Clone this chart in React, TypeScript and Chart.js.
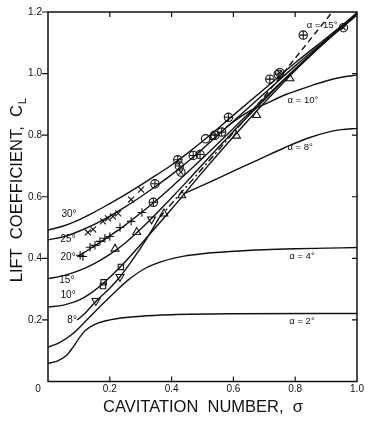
import React, { useEffect, useRef } from "react";
import { Chart, registerables } from "chart.js";

Chart.register(...registerables);

// ---- axis ticks ----
const sigmaTicks = [0, 0.2, 0.4, 0.6, 0.8, 1.0];
const clTicks = [0, 0.2, 0.4, 0.6, 0.8, 1.0, 1.2];

// ---- curves [sigma, C_L] ----
const curve30 = [[0, 0.492], [0.05, 0.505], [0.1, 0.525], [0.15, 0.55], [0.2, 0.578], [0.25, 0.607], [0.3, 0.638], [0.35, 0.67], [0.4, 0.703], [0.45, 0.74], [0.5, 0.78], [0.6, 0.865], [0.7, 0.95], [0.8, 1.035], [0.9, 1.115], [1.0, 1.195]];
const curve25 = [[0, 0.46], [0.05, 0.47], [0.1, 0.488], [0.15, 0.51], [0.2, 0.537], [0.25, 0.567], [0.3, 0.6], [0.35, 0.635], [0.4, 0.672], [0.45, 0.712], [0.5, 0.755], [0.6, 0.845], [0.7, 0.935], [0.8, 1.025], [0.9, 1.11], [1.0, 1.192]];
const curve20 = [[0.095, 0.405], [0.15, 0.44], [0.2, 0.473], [0.25, 0.508], [0.3, 0.547], [0.35, 0.588], [0.4, 0.632], [0.45, 0.678], [0.5, 0.725], [0.6, 0.822], [0.7, 0.92], [0.8, 1.015], [0.9, 1.105], [1.0, 1.19]];
const curve15 = [[0, 0.334], [0.05, 0.344], [0.1, 0.36], [0.15, 0.383], [0.2, 0.413], [0.25, 0.45], [0.3, 0.495], [0.35, 0.545], [0.4, 0.597], [0.45, 0.65], [0.5, 0.705], [0.6, 0.812], [0.7, 0.915], [0.8, 1.015], [0.9, 1.108], [1.0, 1.198]];
const curve10 = [[0, 0.242], [0.05, 0.248], [0.1, 0.264], [0.14, 0.288], [0.18, 0.32], [0.236, 0.374], [0.3, 0.445], [0.4, 0.56], [0.5, 0.68], [0.6, 0.795], [0.7, 0.905], [0.8, 1.01], [0.9, 1.105], [1.0, 1.195]];
const curve8 = [[0.095, 0.2], [0.12, 0.222], [0.157, 0.262], [0.2, 0.303], [0.233, 0.34], [0.27, 0.39], [0.32, 0.465], [0.36, 0.532]];
const curve8DashDot = [[0.36, 0.532], [0.45, 0.635], [0.55, 0.75], [0.7, 0.925]];
const curve15Dashed = [[0.7, 0.925], [0.92, 1.2]];
const curve4 = [[0, 0.111], [0.04, 0.128], [0.08, 0.155], [0.12, 0.194], [0.17, 0.245], [0.217, 0.291], [0.26, 0.33], [0.314, 0.367], [0.37, 0.39], [0.44, 0.407], [0.5, 0.415], [0.6, 0.423], [0.7, 0.428], [0.8, 0.431], [0.9, 0.433], [1.0, 0.435]];
const curve2 = [[0, 0.059], [0.03, 0.066], [0.06, 0.085], [0.08, 0.11], [0.1, 0.14], [0.12, 0.165], [0.15, 0.185], [0.2, 0.2], [0.3, 0.212], [0.4, 0.217], [0.6, 0.22], [1.0, 0.221]];
const wetted10 = [[0.575, 0.825], [0.62, 0.858], [0.66, 0.882], [0.7, 0.9], [0.77, 0.932], [0.85, 0.96], [0.9, 0.976], [0.95, 0.988], [1.0, 0.995]];
const wetted8 = [[0.44, 0.61], [0.5, 0.637], [0.55, 0.66], [0.605, 0.686], [0.68, 0.72], [0.767, 0.76], [0.84, 0.79], [0.906, 0.81], [0.95, 0.818], [1.0, 0.822]];

// ---- experimental points [sigma, C_L] ----
const ptsCrossX = [[0.129, 0.484], [0.146, 0.494], [0.178, 0.52], [0.194, 0.53], [0.21, 0.536], [0.227, 0.546], [0.269, 0.591], [0.301, 0.623]];
const ptsPlus = [[0.104, 0.41], [0.113, 0.406], [0.136, 0.436], [0.152, 0.442], [0.168, 0.455], [0.184, 0.465], [0.2, 0.471], [0.233, 0.5], [0.269, 0.52], [0.304, 0.549]];
const ptsCirclePlus = [[0.346, 0.642], [0.341, 0.582], [0.42, 0.72], [0.425, 0.7], [0.47, 0.734], [0.492, 0.737], [0.54, 0.8], [0.562, 0.81], [0.584, 0.858], [0.718, 0.982], [0.745, 0.998], [0.826, 1.125]];
const ptsCircleCross = [[0.43, 0.68], [0.75, 1.003], [0.956, 1.149]];
const ptsCircle = [[0.51, 0.788]];
const ptsTriUp = [[0.217, 0.431], [0.287, 0.485], [0.375, 0.545], [0.433, 0.604], [0.61, 0.798], [0.675, 0.865], [0.783, 0.984]];
const ptsTriDown = [[0.155, 0.262], [0.233, 0.34], [0.335, 0.527]];
const ptsSquare = [[0.18, 0.322], [0.178, 0.31], [0.236, 0.372], [0.535, 0.795]];

// ---- text labels [text, sigma, C_L] ----
const leftLabels: [string, number, number][] = [["30°", 0.068, 0.542], ["25°", 0.065, 0.462], ["20°", 0.065, 0.403], ["15°", 0.061, 0.329], ["10°", 0.065, 0.28], ["8°", 0.078, 0.199]];
const rightLabels: [string, number, number][] = [["α = 15°", 0.887, 1.158], ["α = 10°", 0.825, 0.912], ["α = 8°", 0.816, 0.759], ["α = 4°", 0.822, 0.406], ["α = 2°", 0.822, 0.196]];

const yTitle = "LIFT  COEFFICIENT,  C";
const yTitleSub = "L";
const xTitle = "CAVITATION  NUMBER,  σ";

const toXY = (a: number[][]) => a.map(([x, y]) => ({ x, y }));
const INK = "#111";
const FONT = "'Liberation Sans', Arial, sans-serif";

export default function App() {
  const ref = useRef<HTMLCanvasElement | null>(null);
  useEffect(() => {
    document.body.style.margin = "0";
    document.body.style.background = "#fff";
    const line = (data: number[][], dash: number[] = []) => ({
      data: toXY(data), showLine: true, borderColor: INK, borderWidth: 1.4, order: 10,
      pointRadius: 0, borderDash: dash, cubicInterpolationMode: "monotone", fill: false,
    });
    const mark = (data: number[][], style: string, extra: any = {}) => ({
      data: toXY(data), showLine: false, pointStyle: style, pointRadius: 4.2, order: 2,
      pointBorderColor: INK, pointBackgroundColor: "rgba(0,0,0,0)", pointBorderWidth: 1.1, ...extra,
    });

    const framePlugin = {
      id: "frame",
      afterDraw(chart: any) {
        const { ctx, chartArea, scales } = chart;
        const { left, right, top, bottom } = chartArea;
        const xs = scales.x, ys = scales.y;
        ctx.save();
        ctx.strokeStyle = INK;
        ctx.lineWidth = 1.5;
        ctx.strokeRect(left, top, right - left, bottom - top);
        ctx.lineWidth = 1.2;
        ctx.beginPath();
        sigmaTicks.forEach((v) => {
          const px = xs.getPixelForValue(v);
          if (v > 0 && v < 1) {
            ctx.moveTo(px, bottom); ctx.lineTo(px, bottom - 5);
            ctx.moveTo(px, top); ctx.lineTo(px, top + 5);
          }
        });
        clTicks.forEach((v) => {
          const py = ys.getPixelForValue(v);
          if (v > 0) { ctx.moveTo(left - 6, py); ctx.lineTo(left, py); }
          if (v > 0 && v < 1.2) { ctx.moveTo(right, py); ctx.lineTo(right - 5, py); }
        });
        ctx.stroke();

        ctx.fillStyle = INK;
        ctx.textBaseline = "middle";
        ctx.textAlign = "center";
        ctx.font = `10px ${FONT}`;
        ctx.fillText("0", xs.getPixelForValue(0) - 10, bottom + 8);
        leftLabels.forEach(([t, sx, sy]) => ctx.fillText(t, xs.getPixelForValue(sx), ys.getPixelForValue(sy)));
        ctx.font = `9.5px ${FONT}`;
        rightLabels.forEach(([t, sx, sy]) => ctx.fillText(t, xs.getPixelForValue(sx), ys.getPixelForValue(sy)));

        // x title
        let fs = 14;
        ctx.font = `${fs}px ${FONT}`;
        const wx = ctx.measureText(xTitle).width;
        fs = fs * 200 / wx;
        ctx.font = `${fs}px ${FONT}`;
        ctx.fillText(xTitle, 203, 407);

        // y title (rotated) with subscript
        ctx.save();
        ctx.translate(17, 190);
        ctx.rotate(-Math.PI / 2);
        let fy = 13;
        ctx.font = `${fy}px ${FONT}`;
        const w1 = ctx.measureText(yTitle).width;
        ctx.font = `${fy * 0.7}px ${FONT}`;
        const w2 = ctx.measureText(yTitleSub).width;
        fy *= 185 / (w1 + w2 + 1);
        ctx.font = `${fy}px ${FONT}`;
        const W1 = ctx.measureText(yTitle).width;
        ctx.font = `${fy * 0.7}px ${FONT}`;
        const W2 = ctx.measureText(yTitleSub).width;
        const start = -(W1 + W2 + 1) / 2;
        ctx.textAlign = "left";
        ctx.font = `${fy}px ${FONT}`;
        ctx.fillText(yTitle, start, 0);
        ctx.font = `${fy * 0.7}px ${FONT}`;
        ctx.fillText(yTitleSub, start + W1 + 1, fy * 0.35);
        ctx.restore();
        ctx.restore();
      },
    };

    const chart = new Chart(ref.current as HTMLCanvasElement, {
      type: "scatter",
      data: {
        datasets: [
          line(curve30), line(curve25), line(curve20), line(curve15), line(curve10),
          line(curve8), line(curve8DashDot, [7, 3, 2, 3]), line(curve15Dashed, [6, 4]),
          line(curve4), line(curve2), line(wetted10), line(wetted8),
          mark(ptsCrossX, "crossRot"),
          mark(ptsPlus, "cross"),
          mark(ptsCirclePlus, "circle"),
          mark(ptsCirclePlus, "cross", { pointRadius: 3.8, order: 1 }),
          mark(ptsCircleCross, "circle"),
          mark(ptsCircleCross, "crossRot", { pointRadius: 3.4, order: 1 }),
          mark(ptsCircle, "circle"),
          mark(ptsTriUp, "triangle", { pointRadius: 4.6 }),
          mark(ptsTriDown, "triangle", { pointRadius: 4.6, pointRotation: 180 }),
          mark(ptsSquare, "rect", { pointRadius: 3.8 }),
        ] as any,
      },
      options: {
        responsive: false,
        animation: false,
        events: [],
        layout: { padding: { top: 11, right: 13, left: 0, bottom: 0 } },
        plugins: { legend: { display: false }, tooltip: { enabled: false } },
        scales: {
          x: {
            type: "linear", min: 0, max: 1,
            grid: { display: false, drawTicks: false }, border: { display: false },
            afterFit: (s: any) => { s.height = 48.5; },
            ticks: {
              stepSize: 0.2, autoSkip: false, padding: 2, color: INK,
              font: { family: FONT, size: 10 },
              callback: (v: any) => (Number(v) === 0 ? "" : Number(v).toFixed(1)),
            },
          },
          y: {
            type: "linear", min: 0, max: 1.2,
            grid: { display: false, drawTicks: false }, border: { display: false },
            afterFit: (s: any) => { s.width = 48; },
            ticks: {
              stepSize: 0.2, autoSkip: false, padding: 6, color: INK,
              font: { family: FONT, size: 10 },
              callback: (v: any) => (Number(v) === 0 ? "" : Number(v).toFixed(1)),
            },
          },
        },
      },
      plugins: [framePlugin],
    } as any);
    return () => chart.destroy();
  }, []);
  return <canvas ref={ref} width={370} height={430} style={{ display: "block" }} />;
}
